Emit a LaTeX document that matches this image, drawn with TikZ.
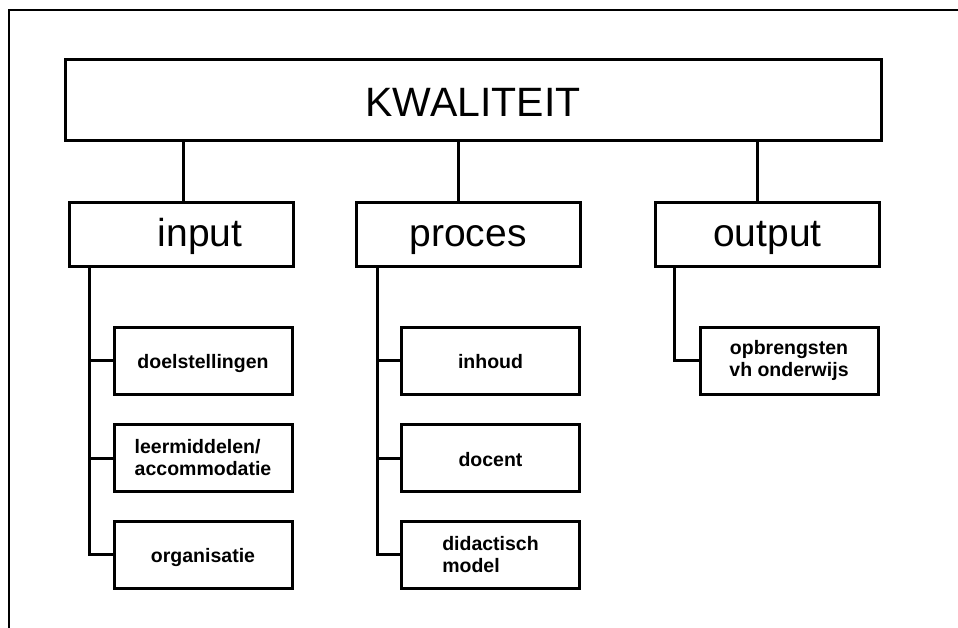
\documentclass[tikz,border=0pt]{standalone}
\usepackage{fontspec}
\setmainfont{Liberation Sans}
\usepackage{tikz}

\begin{document}
\begin{tikzpicture}[x=1pt, y=-1pt,
    box/.style={draw, line width=3pt, inner sep=0pt},
    topbox/.style={box, minimum width=816pt, minimum height=81pt, text height=33pt, text depth=0pt, font=\fontsize{41}{45}\selectfont},
    headbox/.style={box, minimum width=224pt, minimum height=64pt, text height=30pt, text depth=6pt, font=\fontsize{39}{43}\selectfont},
    itembox/.style={box, minimum width=178pt, minimum height=67pt, align=center, font=\fontsize{19.5}{22}\selectfont\bfseries},
    oneline/.style={text height=16pt, text depth=0pt},
    link/.style={line width=3pt}]
                \useasboundingbox (0,0) rectangle (958,628);
                \draw[line width=2pt] (9,628) -- (9,10) -- (958,10);

                \node[topbox] (kw) at (473,100.5) {KWALITEIT};

                \node[headbox] (inp) at (181,235) {\hspace*{38pt}input};
                \node[headbox] (proc) at (468,235) {proces};
                \node[headbox] (outp) at (767.5,235) {output};

                \node[itembox, oneline] (doel) at (203,360.5) {doelstellingen};
                \node[itembox, align=left] (leer) at (203,458) {leermiddelen/\\accommodatie};
                \node[itembox, oneline] (org) at (203,554.5) {organisatie};

                \node[itembox, oneline] (inh) at (490.5,360.5) {inhoud};
                \node[itembox, oneline] (doc) at (490.5,458) {docent};
                \node[itembox, align=left] (did) at (490.5,554.5) {didactisch\\model};

                \node[itembox] (opbr) at (789,360.5) {opbrengsten\\vh onderwijs};

                \draw[link] ([xshift=2pt]inp.north) -- ([xshift=2pt]inp.north |- kw.south);
                \draw[link] ([xshift=-10pt]proc.north) -- ([xshift=-10pt]proc.north |- kw.south);
                \draw[link] ([xshift=-10pt]outp.north) -- ([xshift=-10pt]outp.north |- kw.south);

                \draw[link] ([xshift=22pt]inp.south west) |- (doel.west);
                \draw[link] ([xshift=22pt]inp.south west) |- (leer.west);
                \draw[link] ([xshift=22pt]inp.south west) |- (org.west);

                \draw[link] ([xshift=23pt]proc.south west) |- (inh.west);
                \draw[link] ([xshift=23pt]proc.south west) |- (doc.west);
                \draw[link] ([xshift=23pt]proc.south west) |- (did.west);

                \draw[link] ([xshift=20pt]outp.south west) |- (opbr.west);
            \end{tikzpicture}
\end{document}
